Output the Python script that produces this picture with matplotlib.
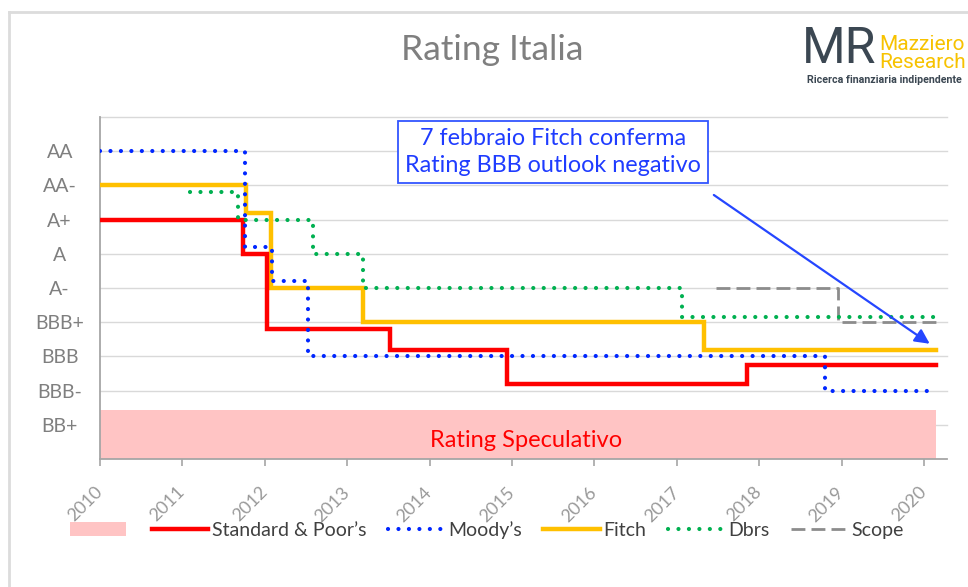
import matplotlib
matplotlib.use("Agg")
import matplotlib.pyplot as plt
from matplotlib.lines import Line2D
from matplotlib.patches import Patch

plt.rcParams['font.family'] = ['Lato', 'DejaVu Sans']

# ---------------- data ----------------
rating_labels = ['BB+', 'BBB-', 'BBB', 'BBB+', 'A-', 'A', 'A+', 'AA-', 'AA']
rating_levels = [1, 2, 3, 4, 5, 6, 7, 8, 9]
year_ticks = list(range(2010, 2021))
end_date = 2020.15

sp_dates = [2010.0, 2011.73, 2012.03, 2013.52, 2014.94, 2017.85]
sp_values = [7.0, 6.0, 3.8, 3.2, 2.2, 2.75]

moodys_dates = [2010.0, 2011.76, 2012.09, 2012.52, 2018.80]
moodys_values = [9.0, 6.2, 5.2, 3.0, 2.0]

fitch_dates = [2010.0, 2011.77, 2012.07, 2013.19, 2017.33]
fitch_values = [8.0, 7.18, 5.0, 4.02, 3.2]

dbrs_dates = [2011.09, 2011.68, 2012.58, 2013.19, 2017.06]
dbrs_values = [7.8, 7.0, 6.0, 5.0, 4.16]

scope_dates = [2017.48, 2018.96]
scope_values = [5.0, 4.0]

spec_top = 1.44

# ---------------- figure ----------------
W, H = 968, 587
fig = plt.figure(figsize=(W / 100, H / 100), dpi=100)
fig.patch.set_facecolor('white')


def fx(px):
    return px / W


def fy(py):
    return 1 - py / H


ax = fig.add_axes([fx(100), fy(459), fx(947) - fx(100), fy(117) - fy(459)])
ax.set_xlim(2010, 2020.28)
ax.set_ylim(0, 10)

# grid lines
for lv in rating_levels + [10]:
    ax.axhline(lv, color='#d9d9d9', lw=1.0, zorder=0, clip_on=False)

# speculative zone
ax.fill_between([2010, end_date], 0, spec_top, color='#ffc4c4', lw=0, zorder=1)
ax.text((2010 + end_date) / 2 + 0.1, 0.55, 'Rating Speculativo', color='#ff0000',
        fontsize=17, ha='center', va='center', zorder=2)


def stepline(dates, values, **kw):
    xs = list(dates) + [end_date]
    ys = list(values) + [values[-1]]
    return ax.step(xs, ys, where='post', **kw)[0]


dot_style = (0, (0.01, 2.5))
l_sp = stepline(sp_dates, sp_values, color='#ff0000', lw=3.2, zorder=5,
                solid_joinstyle='miter')
l_mo = stepline(moodys_dates, moodys_values, color='#0026ff', lw=3.0, ls=dot_style,
                dash_capstyle='round', zorder=6)
l_fi = stepline(fitch_dates, fitch_values, color='#ffc000', lw=3.2, zorder=4,
                solid_joinstyle='miter')
l_db = stepline(dbrs_dates, dbrs_values, color='#00b050', lw=3.0, ls=dot_style,
                dash_capstyle='round', zorder=6)
l_sc = stepline(scope_dates, scope_values, color='#8c8c8c', lw=2.0,
                ls=(0, (5, 2.2)), zorder=3)

# axes styling
for s in ['top', 'right']:
    ax.spines[s].set_visible(False)
ax.spines['left'].set_color('#a6a6a6')
ax.spines['bottom'].set_color('#a6a6a6')
ax.spines['left'].set_linewidth(1.3)
ax.spines['bottom'].set_linewidth(1.3)

ax.set_yticks(rating_levels)
ax.set_yticklabels(rating_labels)
ax.tick_params(axis='y', length=0, pad=29, labelsize=14, labelcolor='#7f7f7f')
for t in ax.get_yticklabels():
    t.set_horizontalalignment('center')

ax.set_xticks(year_ticks)
ax.set_xticklabels([str(y) for y in year_ticks])
ax.tick_params(axis='x', length=5, width=1.2, color='#a6a6a6', pad=17,
               labelsize=13, labelcolor='#999999')
for t in ax.get_xticklabels():
    t.set_rotation(45)
    t.set_horizontalalignment('right')
    t.set_verticalalignment('center')
    t.set_rotation_mode('anchor')

# annotation box
ax.text(2015.50, 8.97, '7 febbraio Fitch conferma\nRating BBB outlook negativo',
        color='#1f3cff', fontsize=16.8, ha='center', va='center', linespacing=1.35,
        zorder=8,
        bbox=dict(boxstyle='square,pad=0.3', fc='white', ec='#3355ff', lw=1.3))
ax.annotate('', xy=(2020.07, 3.37), xytext=(2017.45, 7.72),
            arrowprops=dict(arrowstyle='-|>', color='#2546ff', lw=1.6,
                            mutation_scale=22, shrinkA=0, shrinkB=0), zorder=8)

# title
fig.text(fx(492), fy(50), 'Rating Italia', fontsize=25.5, color='#7f7f7f',
         ha='center', va='center')

# logo
fig.text(fx(839), fy(49), 'MR', fontsize=36, color='#3b4752', ha='center',
         va='center', family=['Roboto', 'DejaVu Sans'])
fig.text(fx(879), fy(45), 'Mazziero', fontsize=15, color='#f7c200', ha='left',
         va='center', family=['Roboto', 'DejaVu Sans'])
fig.text(fx(879), fy(63), 'Research', fontsize=15, color='#f7c200', ha='left',
         va='center', family=['Roboto', 'DejaVu Sans'])
fig.text(fx(807), fy(80), 'Ricerca finanziaria indipendente', fontsize=7.7,
         color='#3b4752', ha='left', va='center', fontweight='bold',
         family=['Roboto', 'DejaVu Sans'])

# frame lines
fig.add_artist(Line2D([fx(9), fx(9)], [0, fy(12)], color='#dcdcdc', lw=2))
fig.add_artist(Line2D([fx(9), 1], [fy(12), fy(12)], color='#dcdcdc', lw=2))

# legend
handles = [Patch(facecolor='#ffc4c4', edgecolor='none'), l_sp, l_mo, l_fi, l_db, l_sc]
labels = ['', 'Standard & Poor\u2019s', 'Moody\u2019s', 'Fitch', 'Dbrs', 'Scope']
leg = fig.legend(handles, labels, loc='center left', bbox_to_anchor=(fx(70), fy(530)),
                 ncol=6, frameon=False, fontsize=14, handlelength=2.9,
                 handletextpad=0.2, columnspacing=1.1, borderpad=0,
                 borderaxespad=0)
for t in leg.get_texts():
    t.set_color('#404040')

fig.savefig('out.png', dpi=100, facecolor='white')
